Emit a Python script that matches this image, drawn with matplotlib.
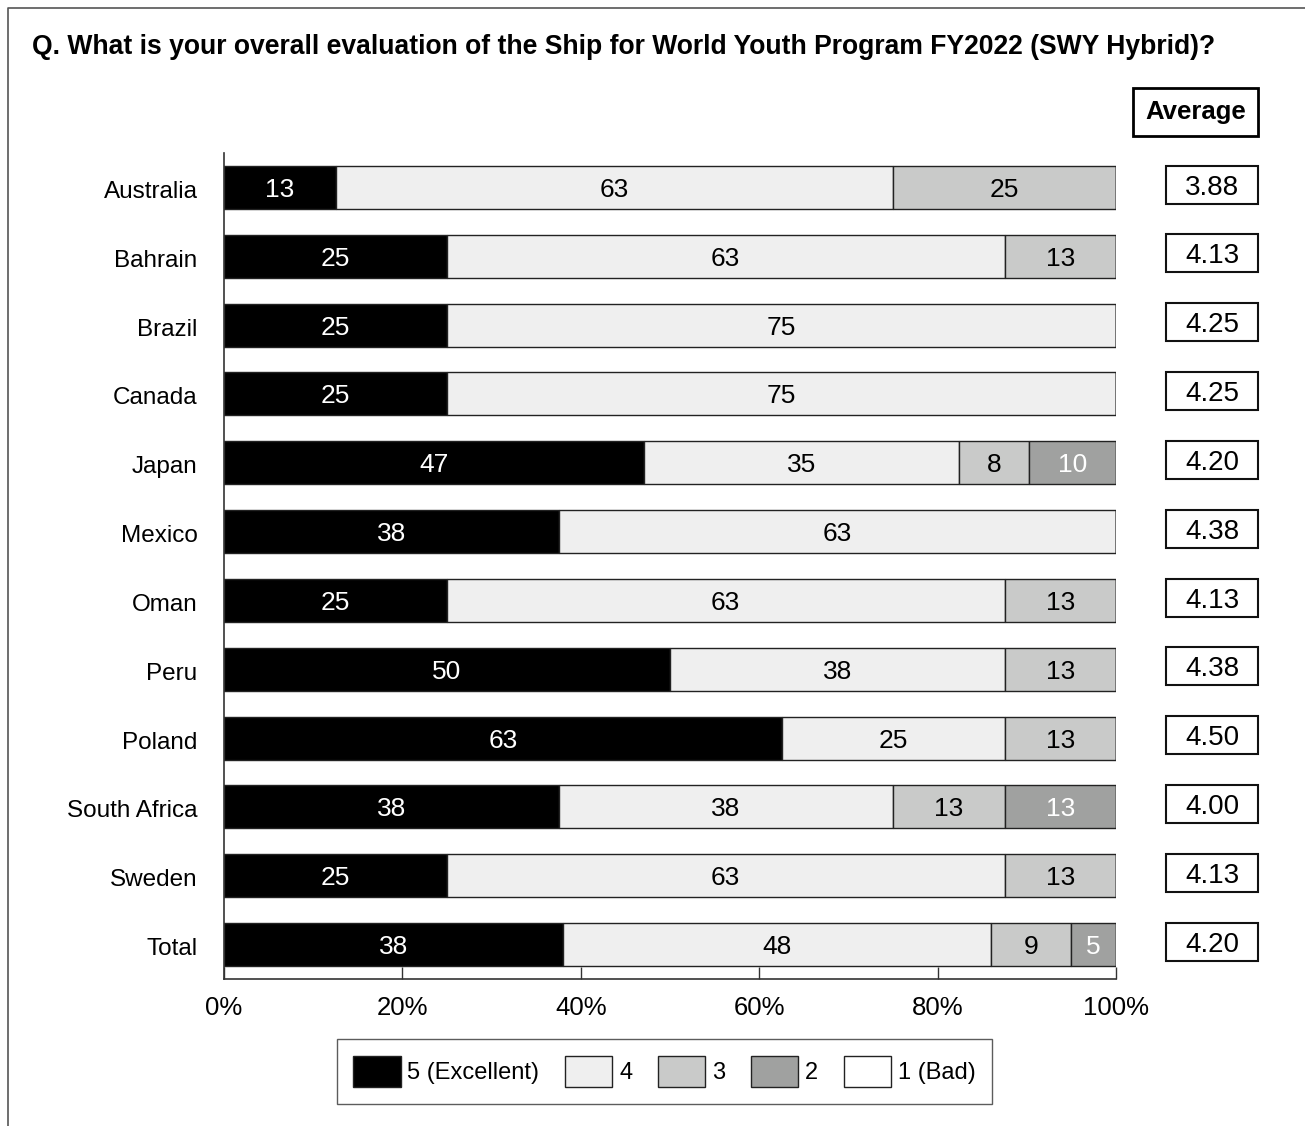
import matplotlib
matplotlib.use('Agg')
import matplotlib.pyplot as plt
import matplotlib.transforms as mtransforms
from matplotlib.patches import Rectangle, Patch
from matplotlib.lines import Line2D

plt.rcParams['font.family'] = ['Liberation Sans', 'DejaVu Sans']

# ---- data (percent of respondents per rating) ----
countries = ['Australia', 'Bahrain', 'Brazil', 'Canada', 'Japan', 'Mexico',
             'Oman', 'Peru', 'Poland', 'South Africa', 'Sweden', 'Total']
level5 = [12.5, 25, 25, 25, 47.1, 37.5, 25, 50, 62.5, 37.5, 25, 38]
level4 = [62.5, 62.5, 75, 75, 35.3, 62.5, 62.5, 37.5, 25, 37.5, 62.5, 48]
level3 = [25, 12.5, 0, 0, 7.8, 0, 12.5, 12.5, 12.5, 12.5, 12.5, 9]
level2 = [0, 0, 0, 0, 9.8, 0, 0, 0, 0, 12.5, 0, 5]
level1 = [0, 0, 0, 0, 0, 0, 0, 0, 0, 0, 0, 0]
averages = [3.88, 4.13, 4.25, 4.25, 4.20, 4.38, 4.13, 4.38, 4.50, 4.00, 4.13, 4.20]

level_names = ['5 (Excellent)', '4', '3', '2', '1 (Bad)']
colors = ['#000000', '#efefef', '#c9cac9', '#a0a1a0', '#ffffff']
text_colors = ['white', 'black', 'black', 'white', 'black']

fig = plt.figure(figsize=(13.05, 11.26), dpi=100)
ax = fig.add_axes([224/1305, 147/1126, 892/1305, 826/1126])

y = list(range(len(countries)))
left = [0.0] * len(countries)
for series, col, tcol in zip([level5, level4, level3, level2, level1], colors, text_colors):
    ax.barh(y, series, left=left, height=0.625, color=col, edgecolor='#222222', linewidth=1.0)
    for i, v in enumerate(series):
        if v > 0:
            ax.text(left[i] + v / 2, i, f'{int(v + 0.5)}', ha='center', va='center_baseline',
                    fontsize=19, color=tcol)
    left = [l + v for l, v in zip(left, series)]

ax.set_xlim(0, 100)
ax.set_ylim(len(countries) - 0.5, -0.5)
ax.set_yticks(y)
ax.set_yticklabels(countries, fontsize=17.5)
ax.set_xticks([0, 20, 40, 60, 80, 100])
ax.set_xticklabels([f'{t}%' for t in [0, 20, 40, 60, 80, 100]], fontsize=18.5)
ax.tick_params(axis='y', length=0, pad=19)
ax.tick_params(axis='x', direction='in', length=9, width=1.0, color='#333333', pad=12)
# nudge country names down a touch
shift = mtransforms.ScaledTranslation(0, -2/100, fig.dpi_scale_trans)
for lbl in ax.get_yticklabels():
    lbl.set_transform(lbl.get_transform() + shift)
for s in ['top', 'right']:
    ax.spines[s].set_visible(False)
for s in ['left', 'bottom']:
    ax.spines[s].set_color('#333333')
    ax.spines[s].set_linewidth(1.2)

# average column
trans = mtransforms.blended_transform_factory(ax.transAxes, ax.transData)
bx, bw = (1166 - 224) / 892, 92 / 892
for i, a in enumerate(averages):
    ax.add_patch(Rectangle((bx, i - 0.04 - 0.276), bw, 0.552, transform=trans,
                           facecolor='white', edgecolor='#111111', linewidth=1.5, clip_on=False))
    ax.text(bx + bw / 2, i - 0.04, f'{a:.2f}', transform=trans, ha='center', va='center_baseline',
            fontsize=20, clip_on=False)
hx, hw = (1133 - 224) / 892, 125 / 892
ax.add_patch(Rectangle((hx, -1.097 - 0.349), hw, 0.698, transform=trans,
                       facecolor='white', edgecolor='black', linewidth=2.0, clip_on=False))
ax.text(hx + hw / 2, -1.097, 'Average', transform=trans, ha='center', va='center',
        fontsize=18.5, fontweight='bold', clip_on=False)

fig.text(32/1305, 1 - 47/1126,
         'Q. What is your overall evaluation of the Ship for World Youth Program FY2022 (SWY Hybrid)?',
         ha='left', va='center', fontsize=19.1, fontweight='bold')

handles = [Patch(facecolor=c, edgecolor='#222222', linewidth=1.0) for c in colors]
leg = fig.legend(handles, level_names, loc='center', bbox_to_anchor=(664.5/1305, 54.5/1126),
                 ncol=5, fontsize=17, frameon=True, fancybox=False, edgecolor='#333333',
                 handlelength=2.0, handleheight=1.7, handletextpad=0.28, columnspacing=1.1,
                 borderpad=0.7)
leg.get_frame().set_linewidth(1.0)

# outer frame (top and left edges)
fig.add_artist(Line2D([8/1305, 8/1305, 1.0], [0.0, 1 - 8/1126, 1 - 8/1126],
                      transform=fig.transFigure, color='#555555', linewidth=1.2))

plt.savefig('out.png', dpi=100)
plt.close()
